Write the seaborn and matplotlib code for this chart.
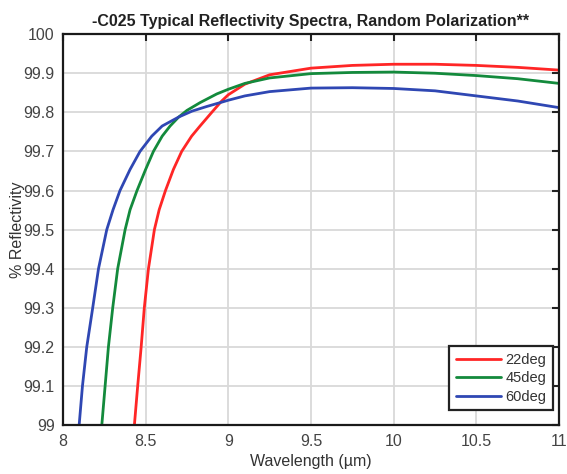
import matplotlib
matplotlib.use("Agg")
import matplotlib.pyplot as plt
import seaborn as sns
import pandas as pd

# values
wl_22 = [8.432, 8.452, 8.473, 8.492, 8.517, 8.553, 8.582, 8.62, 8.668, 8.718, 8.778,
         8.829, 8.9, 8.96, 9.0, 9.1, 9.25, 9.5, 9.75, 10.0, 10.25, 10.5, 10.75, 11.0]
r_22 = [99.0, 99.1, 99.2, 99.3, 99.4, 99.5, 99.551, 99.6, 99.654, 99.7, 99.739,
        99.765, 99.8, 99.829, 99.845, 99.872, 99.896, 99.913, 99.92, 99.923, 99.923,
        99.92, 99.915, 99.908]

wl_45 = [8.235, 8.255, 8.275, 8.301, 8.331, 8.376, 8.406, 8.448, 8.50, 8.547, 8.60,
         8.648, 8.70, 8.75, 8.83, 8.93, 9.0, 9.1, 9.25, 9.5, 9.75, 10.0, 10.25, 10.5,
         10.75, 11.0]
r_45 = [99.0, 99.1, 99.2, 99.3, 99.4, 99.5, 99.551, 99.6, 99.654, 99.7, 99.739,
        99.765, 99.788, 99.805, 99.825, 99.847, 99.859, 99.874, 99.888, 99.899, 99.902,
        99.903, 99.9, 99.894, 99.886, 99.874]

wl_60 = [8.098, 8.118, 8.144, 8.18, 8.215, 8.265, 8.303, 8.345, 8.406, 8.466, 8.537,
         8.60, 8.70, 8.78, 8.87, 8.96, 9.0, 9.1, 9.25, 9.5, 9.75, 10.0, 10.25, 10.5,
         10.75, 11.0]
r_60 = [99.0, 99.1, 99.2, 99.3, 99.4, 99.5, 99.551, 99.6, 99.654, 99.7, 99.739,
        99.765, 99.788, 99.803, 99.815, 99.826, 99.831, 99.842, 99.853, 99.862, 99.863,
        99.861, 99.855, 99.842, 99.829, 99.812]

labels = ["22deg", "45deg", "60deg"]
colors = ["#ff2626", "#138a3c", "#2f47b3"]

df = pd.concat([
    pd.DataFrame({"wl": wl_22, "r": r_22, "angle": labels[0]}),
    pd.DataFrame({"wl": wl_45, "r": r_45, "angle": labels[1]}),
    pd.DataFrame({"wl": wl_60, "r": r_60, "angle": labels[2]}),
])

sns.set_style("whitegrid")
plt.rcParams['font.family'] = ['Liberation Sans', 'DejaVu Sans']

fig = plt.figure(figsize=(5.67, 4.74), dpi=100)
ax = fig.add_axes([0.111, 0.103, 0.875, 0.825])
sns.lineplot(data=df, x="wl", y="r", hue="angle", palette=dict(zip(labels, colors)),
             estimator=None, sort=False, linewidth=2, ax=ax)

ax.set_xlim(8, 11)
ax.set_ylim(99, 100)
ax.set_xticks([8, 8.5, 9, 9.5, 10, 10.5, 11])
ax.set_xticklabels(["8", "8.5", "9", "9.5", "10", "10.5", "11"])
ax.set_yticks([99 + i / 10 for i in range(11)])
ax.set_yticklabels(["99", "99.1", "99.2", "99.3", "99.4", "99.5", "99.6", "99.7",
                    "99.8", "99.9", "100"])
ax.grid(True, color="#d9d9d9", linewidth=1.3)
for s in ax.spines.values():
    s.set_color("#1a1a1a")
    s.set_linewidth(1.6)
ax.tick_params(direction="in", length=5, width=1.5, top=True, right=True,
               labelsize=11.5, colors="#222222", pad=6)
ax.tick_params(axis="both", labelcolor="#444444")
ax.set_xlabel("Wavelength (µm)", fontsize=11.5, color="#333333")
ax.set_ylabel("% Reflectivity", fontsize=11.5, color="#333333", labelpad=-1)
ax.set_title("-C025 Typical Reflectivity Spectra, Random Polarization**",
             fontsize=11.5, fontweight="bold", color="#222222", pad=6)

leg = ax.legend(loc="lower right", fontsize=10.5, fancybox=False, framealpha=1,
                borderpad=0.45, handlelength=3.1, handletextpad=0.3, labelspacing=0.3,
                borderaxespad=0, bbox_to_anchor=(0.988, 0.038))
leg.get_frame().set_edgecolor("#222222")
leg.get_frame().set_linewidth(1.6)
for t in leg.get_texts():
    t.set_color("#333333")

fig.savefig("out.png", dpi=100)
